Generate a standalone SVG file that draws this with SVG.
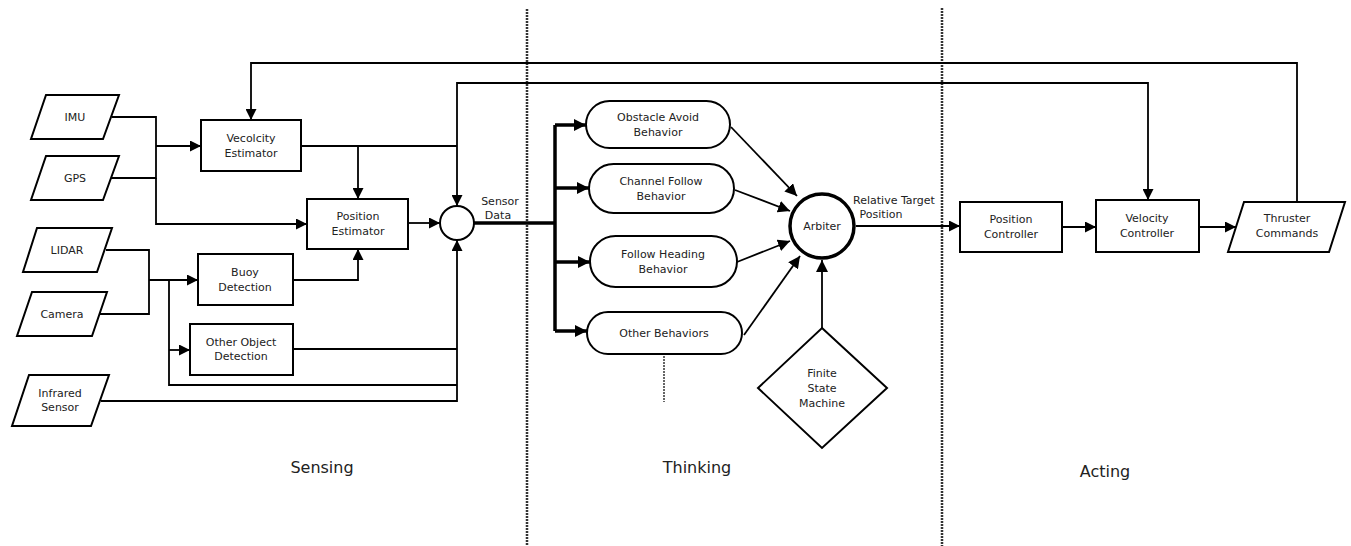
<svg xmlns="http://www.w3.org/2000/svg" width="1351" height="546" viewBox="0 0 1351 546">
<style>
.s{fill:#fff;stroke:#000;stroke-width:2}
.t{font-family:"DejaVu Sans",Verdana,sans-serif;font-size:11px;fill:#222;text-anchor:middle}
.big{font-family:"DejaVu Sans",Verdana,sans-serif;font-size:16px;fill:#222;text-anchor:middle}
.c{fill:none;stroke:#000;stroke-width:1.8}
.a{marker-end:url(#ah)}
.b{fill:none;stroke:#000;stroke-width:3.5}
.d{fill:none;stroke:#333;stroke-width:2.5;stroke-dasharray:2 1}
</style>
<defs>
<marker id="ah" viewBox="0 0 10 10" refX="10" refY="5" markerWidth="11" markerHeight="11" markerUnits="userSpaceOnUse" orient="auto">
<path d="M0,0 L10,5 L0,10 z" fill="#000"/>
</marker>
<marker id="ah2" viewBox="0 0 10 10" refX="10" refY="5" markerWidth="12" markerHeight="12" markerUnits="userSpaceOnUse" orient="auto">
<path d="M0,0 L10,5 L0,10 z" fill="#000"/>
</marker>
</defs>
<rect width="1351" height="546" fill="#fff"/>

<g id="dividers">
<line class="d" x1="527" y1="9" x2="527" y2="546"/>
<line class="d" x1="942" y1="8" x2="942" y2="546"/>
<line class="d" x1="664" y1="356" x2="664" y2="402" style="stroke-width:1.5"/>
</g>

<g id="connectors">
<path class="c" d="M112,117 H156 V178 H104"/>
<path class="c a" d="M156,146 H201"/>
<path class="c a" d="M156,178 V224 H307"/>
<path class="c" d="M301,146 H457"/>
<path class="c a" d="M358,146 V199"/>
<path class="c a" d="M408,223 H440"/>
<path class="c" d="M106,250 H149 V314 H100"/>
<path class="c a" d="M149,280 H198"/>
<path class="c" d="M169,280 V385 H457"/>
<path class="c a" d="M169,350 H190"/>
<path class="c a" d="M293,280 H358 V249"/>
<path class="c" d="M293,349 H457"/>
<path class="c a" d="M101,401 H457 V240"/>
<path class="c a" d="M1297,202 V63 H251 V120"/>
<path class="c a" d="M457,146 V83 H1148 V200"/>
<path class="c a" d="M457,146 V206"/>
<path class="b" d="M474,223 H555"/>
<path class="b" d="M555,125 V331"/>
<path class="b" d="M555,125 H586" marker-end="url(#ah2)"/>
<path class="b" d="M555,188 H589" marker-end="url(#ah2)"/>
<path class="b" d="M555,262 H590" marker-end="url(#ah2)"/>
<path class="b" d="M555,331 H587" marker-end="url(#ah2)"/>
<path class="c" d="M731,127 L797,196" marker-end="url(#ah2)"/>
<path class="c" d="M735,190 L790,211" marker-end="url(#ah2)"/>
<path class="c" d="M737,262 L790,241" marker-end="url(#ah2)"/>
<path class="c" d="M744,335 L800,256" marker-end="url(#ah2)"/>
<path class="c" d="M822,328 V260" marker-end="url(#ah2)"/>
<path class="c a" d="M856,226 H960"/>
<path class="c a" d="M1062,227 H1096"/>
<path class="c a" d="M1199,227 H1236"/>
</g>

<g id="imu"><polygon class="s" points="46,95 119,95 103,139 31,139"/><text class="t" x="75" y="121">IMU</text></g>
<g id="gps"><polygon class="s" points="46,156 119,156 103,200 31,200"/><text class="t" x="75" y="182">GPS</text></g>
<g id="lidar"><polygon class="s" points="37,228 112,228 97,272 23,272"/><text class="t" x="67" y="254">LIDAR</text></g>
<g id="camera"><polygon class="s" points="32,292 107,292 92,336 17,336"/><text class="t" x="62" y="318">Camera</text></g>
<g id="infrared"><polygon class="s" points="29,375 109,375 91,426 12,426"/><text class="t" x="60" y="397">Infrared</text><text class="t" x="60" y="411">Sensor</text></g>

<g id="velocity-estimator"><rect class="s" x="201" y="120" width="100" height="51"/><text class="t" x="251" y="142">Vecolcity</text><text class="t" x="251" y="157">Estimator</text></g>
<g id="position-estimator"><rect class="s" x="307" y="199" width="101" height="50"/><text class="t" x="358" y="220">Position</text><text class="t" x="358" y="235">Estimator</text></g>
<g id="buoy"><rect class="s" x="198" y="254" width="95" height="51"/><text class="t" x="245" y="276">Buoy</text><text class="t" x="245" y="291">Detection</text></g>
<g id="other-object"><rect class="s" x="190" y="324" width="103" height="51"/><text class="t" x="241" y="346">Other Object</text><text class="t" x="241" y="360">Detection</text></g>
<g id="sum"><circle class="s" cx="457" cy="223" r="17"/></g>
<g id="sensor-data-label"><text class="t" x="500" y="205">Sensor</text><text class="t" x="498" y="219">Data</text></g>

<g id="obstacle"><rect class="s" x="586" y="101" width="144" height="47" rx="23.5"/><text class="t" x="658" y="121">Obstacle Avoid</text><text class="t" x="658" y="136">Behavior</text></g>
<g id="channel"><rect class="s" x="589" y="164" width="145" height="49" rx="24.5"/><text class="t" x="661" y="185">Channel Follow</text><text class="t" x="661" y="200">Behavior</text></g>
<g id="heading"><rect class="s" x="590" y="236" width="147" height="51" rx="25.5"/><text class="t" x="663" y="258">Follow Heading</text><text class="t" x="663" y="273">Behavior</text></g>
<g id="other-behaviors"><rect class="s" x="587" y="312" width="155" height="42" rx="21"/><text class="t" x="664" y="337">Other Behaviors</text></g>

<g id="arbiter"><circle cx="822" cy="226" r="32" fill="#fff" stroke="#000" stroke-width="3.5"/><text class="t" x="822" y="230">Arbiter</text></g>
<g id="rtp-label"><text class="t" x="894" y="204">Relative Target</text><text class="t" x="881" y="218">Position</text></g>
<g id="fsm"><polygon class="s" points="822,328 887,388 822,448 758,388"/><text class="t" x="822" y="377">Finite</text><text class="t" x="822" y="392">State</text><text class="t" x="822" y="407">Machine</text></g>

<g id="position-controller"><rect class="s" x="960" y="202" width="102" height="50"/><text class="t" x="1011" y="223">Position</text><text class="t" x="1011" y="238">Controller</text></g>
<g id="velocity-controller"><rect class="s" x="1096" y="200" width="103" height="52"/><text class="t" x="1147" y="222">Velocity</text><text class="t" x="1147" y="237">Controller</text></g>
<g id="thruster"><polygon class="s" points="1244,202 1345,202 1329,252 1228,252"/><text class="t" x="1287" y="222">Thruster</text><text class="t" x="1287" y="237">Commands</text></g>

<g id="labels">
<text class="big" x="322" y="473">Sensing</text>
<text class="big" x="697" y="473">Thinking</text>
<text class="big" x="1105" y="477">Acting</text>
</g>
</svg>
